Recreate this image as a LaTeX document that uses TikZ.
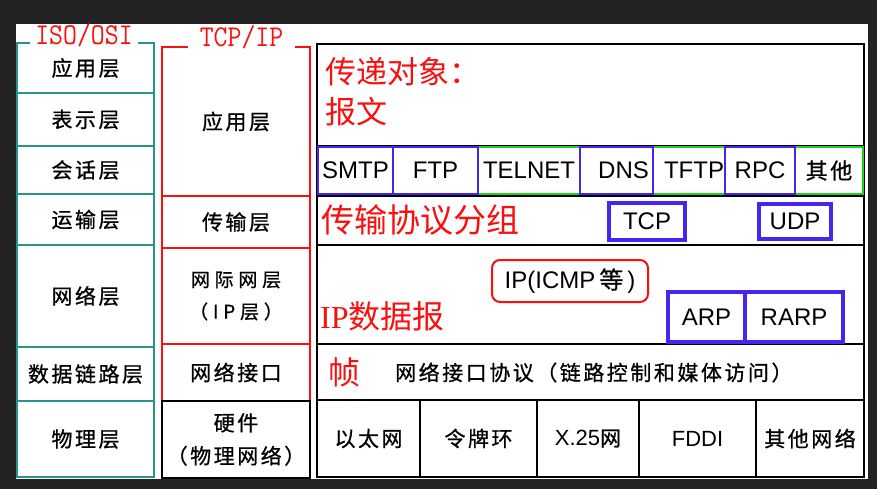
\documentclass[tikz,border=0pt]{standalone}
\usepackage{fontspec}
\usepackage{graphicx}
\setmainfont{Liberation Sans}
\newfontfamily\cjk{Noto Sans CJK SC}
\newfontfamily\cjksp[LetterSpace=12,FakeBold=0.8]{Noto Sans CJK SC}
\newfontfamily\cjkwide[LetterSpace=25,FakeBold=0.6]{Noto Sans CJK SC}
\newfontfamily\monofont{Latin Modern Mono}
\newfontfamily\seriffont{Liberation Serif}
\newcommand\setfs[1]{\fontsize{#1}{#1}\selectfont}
\definecolor{bgdark}{RGB}{35,35,35}
\definecolor{ositeal}{RGB}{38,150,140}
\definecolor{tred}{RGB}{250,15,15}
\definecolor{protoblue}{RGB}{72,36,240}
\definecolor{pgreen}{RGB}{30,210,30}
\begin{document}
\begin{tikzpicture}[x=1pt,y=-1pt,
  osibox/.style={draw=ositeal, line width=2pt, minimum width=137pt, inner sep=0pt, font=\cjksp\setfs{21}},
  tcpbox/.style={draw=tred, line width=2pt, minimum width=148pt, inner sep=0pt, align=center, font=\cjksp\setfs{21}},
  rowbox/.style={draw=black, line width=1.8pt, minimum width=547pt, inner sep=0pt},
  protobox/.style={draw=protoblue, line width=2.5pt, inner sep=0pt, minimum height=47pt, font=\setfs{24}},
  thickblue/.style={draw=protoblue, line width=3.5pt, inner sep=0pt, font=\setfs{24}},
  netcell/.style={draw=black, line width=1.8pt, inner sep=0pt, minimum height=77pt, font=\cjksp\setfs{21}},
  redtext/.style={text=tred, inner sep=0pt, anchor=west, font=\cjk\setfs{31}},
  titletext/.style={text=tred, fill=white, inner ysep=1pt, text height=18pt, text depth=2pt, anchor=base, font=\monofont\setfs{27}},
]
\useasboundingbox (0,0) rectangle (877,489);
\fill[bgdark] (0,0) rectangle (877,489);
\fill[white] (16,24) rectangle (868,479);

% ISO/OSI column
\node[osibox, minimum height=50pt] (osi1) at (85.5,68) {应用层};
\node[osibox, minimum height=53pt] (osi2) at (85.5,119.5) {表示层};
\node[osibox, minimum height=48pt] (osi3) at (85.5,170) {会话层};
\node[osibox, minimum height=51pt] (osi4) at (85.5,219.5) {运输层};
\node[osibox, minimum height=102pt] (osi5) at (85.5,296) {网络层};
\node[osibox, minimum height=54pt] (osi6) at (85.5,374) {数据链路层};
\node[osibox, minimum height=76pt] (osi7) at (85.5,439) {物理层};
\node[titletext, inner xsep=5pt] (osititle) at (84,45) {\scalebox{1}[1.12]{ISO/OSI}};

% TCP/IP column
\node[tcpbox, minimum height=149pt] (tcp1) at (236,121.5) {\raisebox{-5pt}{应用层}};
\node[tcpbox, minimum height=52pt] (tcp2) at (236,222) {传输层};
\node[tcpbox, minimum height=96pt, font=\cjkwide\fontsize{19}{32}\selectfont] (tcp3) at (236,296) {网际网层\\（IP层）};
\node[tcpbox, minimum height=57pt] (tcp4) at (236,372.5) {网络接口};
\node[tcpbox, draw=black, minimum height=77pt, font=\cjksp\fontsize{21}{33}\selectfont] (tcp5) at (236,439.5) {硬件\\（物理网络）};
\node[titletext, inner xsep=12pt] (tcptitle) at (241.5,47) {\scalebox{1}[1.12]{TCP/IP}};

% right section rows
\node[rowbox, minimum height=102pt] (msgrow) at (590.5,95) {};
\node[rowbox, minimum height=50pt] (protorow) at (590.5,171) {};
\node[rowbox, minimum height=49pt] (tprow) at (590.5,220.5) {};
\node[rowbox, minimum height=99pt] (iprow) at (590.5,294.5) {};
\node[rowbox, minimum height=56pt] (frrow) at (590.5,372) {};

% network cells
\node[netcell, minimum width=103pt] (eth) at (368.5,438.5) {以太网};
\node[netcell, minimum width=117pt] (token) at (478.5,438.5) {令牌环};
\node[netcell, minimum width=102pt] (xtwofive) at (588,438.5) {{\normalfont\setfs{22}X.25}网};
\node[netcell, minimum width=117pt, font=\setfs{22}] (fddi) at (697.5,438.5) {FDDI};
\node[netcell, minimum width=108pt] (othernet) at (810,438.5) {其他网络};

% application protocols
\node[protobox, draw=pgreen, minimum width=102pt] (telnet) at (529,170.5) {TELNET};
\node[protobox, draw=pgreen, minimum width=72pt] (tftp) at (689,170.5) {\hspace*{10pt}TFTP};
\node[protobox, draw=pgreen, minimum width=68pt] (other) at (829,170.5) {{\cjksp\setfs{22}其他}};
\node[protobox, minimum width=75pt] (smtp) at (355.5,170.5) {SMTP};
\node[protobox, minimum width=85pt] (ftp) at (435.5,170.5) {FTP};
\node[protobox, minimum width=73pt] (dns) at (616.5,170.5) {\hspace*{14pt}DNS};
\node[protobox, minimum width=70pt] (rpc) at (760,170.5) {RPC};

% transport
\node[thickblue, minimum width=76pt, minimum height=37pt] (tcpp) at (647,221.5) {TCP};
\node[thickblue, minimum width=72pt, minimum height=35pt] (udp) at (795,221.5) {UDP};

% internet
\node[draw=tred, line width=2pt, rounded corners=8pt, minimum width=156pt, minimum height=42pt, inner sep=0pt, font=\setfs{24}] (ipicmp) at (570,281) {IP(ICMP\,{\cjksp 等}\,)};
\node[thickblue, minimum width=77pt, minimum height=50pt] (arp) at (706.5,317) {ARP};
\node[thickblue, minimum width=98pt, minimum height=50pt] (rarp) at (794,317) {RARP};

% red unit labels
\node[redtext] (msgone) at (325,72) {传递对象：};
\node[redtext] (msgtwo) at (325,112) {报文};
\node[redtext, font=\cjk\setfs{33}] (tpunit) at (321,220) {传输协议分组};
\node[redtext, font=\setfs{32}] (ipunit) at (320,316) {{\seriffont IP}{\cjk 数据报}};
\node[redtext, font=\cjk\setfs{32}] (frunit) at (328,372) {帧};
\node[anchor=west, inner sep=0pt, font=\cjksp\setfs{21}] (frproto) at (395,372.5) {网络接口协议（链路控制和媒体访问）};
\end{tikzpicture}
\end{document}
